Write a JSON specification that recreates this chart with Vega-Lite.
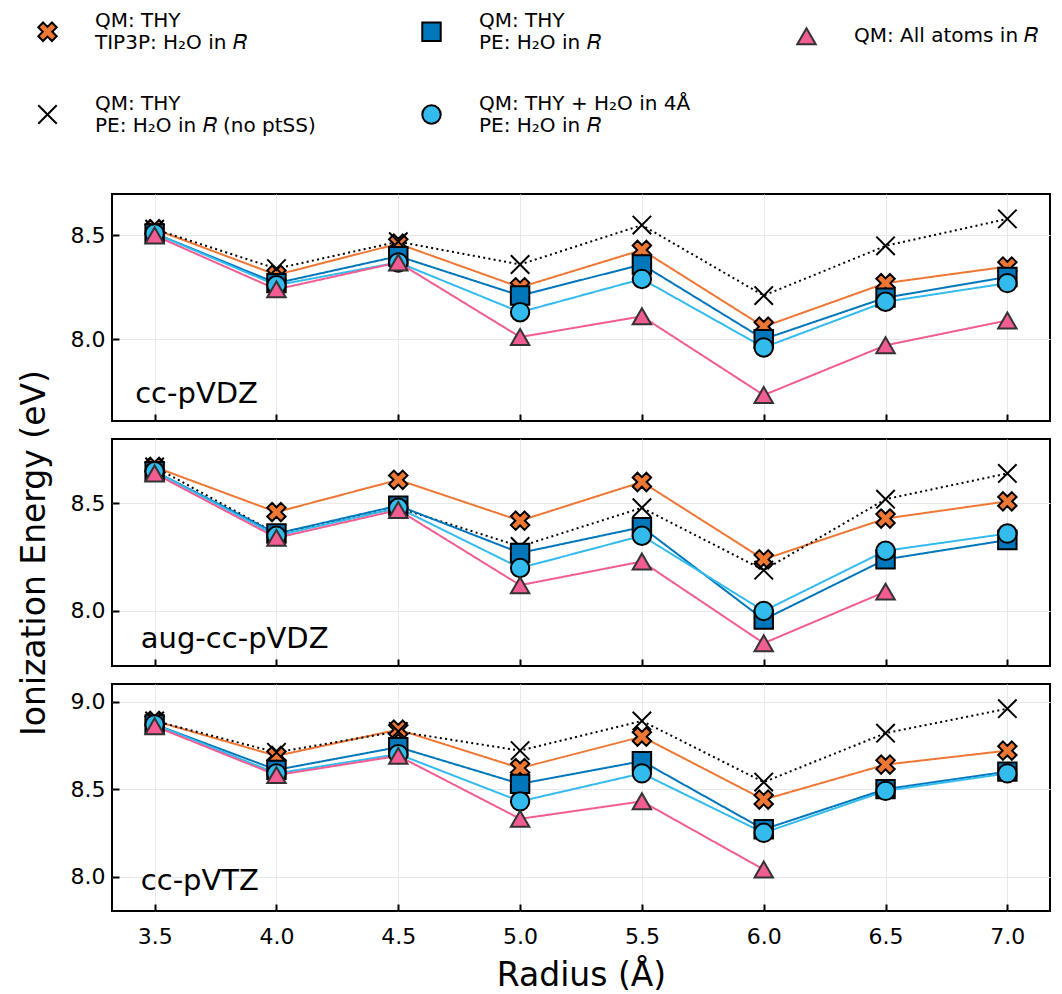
{
  "$schema": "https://vega.github.io/schema/vega-lite/v6.json",
  "background": "white",
  "padding": {"left": 17, "top": 20, "right": 5, "bottom": 3},
  "config": {
    "font": "DejaVu Sans",
    "view": {"stroke": "black", "strokeWidth": 2},
    "axis": {
      "labelFont": "DejaVu Sans", "labelFontSize": 22, "labelColor": "black",
      "tickColor": "black", "tickWidth": 2, "tickSize": -7,
      "domain": false, "gridColor": "#e8e8e8", "gridWidth": 1,
      "titleFont": "DejaVu Sans", "titleFontWeight": "normal", "titleFontSize": 33, "titleColor": "black"
    },
    "legend": {
      "labelFont": "DejaVu Sans", "labelFontSize": 20, "labelColor": "black", "labelLimit": 600,
      "symbolStrokeWidth": 2, "symbolSize": 340
    }
  },
  "data": {
    "values": [
      {"basis": "cc-pVDZ", "s": "a", "r": 3.5, "ie": 8.53}, {"basis": "cc-pVDZ", "s": "a", "r": 4.0, "ie": 8.31}, {"basis": "cc-pVDZ", "s": "a", "r": 4.5, "ie": 8.46}, {"basis": "cc-pVDZ", "s": "a", "r": 5.0, "ie": 8.25}, {"basis": "cc-pVDZ", "s": "a", "r": 5.5, "ie": 8.43}, {"basis": "cc-pVDZ", "s": "a", "r": 6.0, "ie": 8.06}, {"basis": "cc-pVDZ", "s": "a", "r": 6.5, "ie": 8.27}, {"basis": "cc-pVDZ", "s": "a", "r": 7.0, "ie": 8.35},
      {"basis": "cc-pVDZ", "s": "b", "r": 3.5, "ie": 8.53}, {"basis": "cc-pVDZ", "s": "b", "r": 4.0, "ie": 8.34}, {"basis": "cc-pVDZ", "s": "b", "r": 4.5, "ie": 8.47}, {"basis": "cc-pVDZ", "s": "b", "r": 5.0, "ie": 8.36}, {"basis": "cc-pVDZ", "s": "b", "r": 5.5, "ie": 8.55}, {"basis": "cc-pVDZ", "s": "b", "r": 6.0, "ie": 8.21}, {"basis": "cc-pVDZ", "s": "b", "r": 6.5, "ie": 8.45}, {"basis": "cc-pVDZ", "s": "b", "r": 7.0, "ie": 8.58},
      {"basis": "cc-pVDZ", "s": "c", "r": 3.5, "ie": 8.51}, {"basis": "cc-pVDZ", "s": "c", "r": 4.0, "ie": 8.27}, {"basis": "cc-pVDZ", "s": "c", "r": 4.5, "ie": 8.40}, {"basis": "cc-pVDZ", "s": "c", "r": 5.0, "ie": 8.21}, {"basis": "cc-pVDZ", "s": "c", "r": 5.5, "ie": 8.36}, {"basis": "cc-pVDZ", "s": "c", "r": 6.0, "ie": 8.00}, {"basis": "cc-pVDZ", "s": "c", "r": 6.5, "ie": 8.20}, {"basis": "cc-pVDZ", "s": "c", "r": 7.0, "ie": 8.30},
      {"basis": "cc-pVDZ", "s": "d", "r": 3.5, "ie": 8.51}, {"basis": "cc-pVDZ", "s": "d", "r": 4.0, "ie": 8.26}, {"basis": "cc-pVDZ", "s": "d", "r": 4.5, "ie": 8.37}, {"basis": "cc-pVDZ", "s": "d", "r": 5.0, "ie": 8.13}, {"basis": "cc-pVDZ", "s": "d", "r": 5.5, "ie": 8.29}, {"basis": "cc-pVDZ", "s": "d", "r": 6.0, "ie": 7.96}, {"basis": "cc-pVDZ", "s": "d", "r": 6.5, "ie": 8.18}, {"basis": "cc-pVDZ", "s": "d", "r": 7.0, "ie": 8.27},
      {"basis": "cc-pVDZ", "s": "e", "r": 3.5, "ie": 8.50}, {"basis": "cc-pVDZ", "s": "e", "r": 4.0, "ie": 8.24}, {"basis": "cc-pVDZ", "s": "e", "r": 4.5, "ie": 8.37}, {"basis": "cc-pVDZ", "s": "e", "r": 5.0, "ie": 8.01}, {"basis": "cc-pVDZ", "s": "e", "r": 5.5, "ie": 8.11}, {"basis": "cc-pVDZ", "s": "e", "r": 6.0, "ie": 7.73}, {"basis": "cc-pVDZ", "s": "e", "r": 6.5, "ie": 7.97}, {"basis": "cc-pVDZ", "s": "e", "r": 7.0, "ie": 8.09},
      {"basis": "aug-cc-pVDZ", "s": "a", "r": 3.5, "ie": 8.67}, {"basis": "aug-cc-pVDZ", "s": "a", "r": 4.0, "ie": 8.46}, {"basis": "aug-cc-pVDZ", "s": "a", "r": 4.5, "ie": 8.61}, {"basis": "aug-cc-pVDZ", "s": "a", "r": 5.0, "ie": 8.42}, {"basis": "aug-cc-pVDZ", "s": "a", "r": 5.5, "ie": 8.60}, {"basis": "aug-cc-pVDZ", "s": "a", "r": 6.0, "ie": 8.24}, {"basis": "aug-cc-pVDZ", "s": "a", "r": 6.5, "ie": 8.43}, {"basis": "aug-cc-pVDZ", "s": "a", "r": 7.0, "ie": 8.51},
      {"basis": "aug-cc-pVDZ", "s": "b", "r": 3.5, "ie": 8.67}, {"basis": "aug-cc-pVDZ", "s": "b", "r": 4.0, "ie": 8.36}, {"basis": "aug-cc-pVDZ", "s": "b", "r": 4.5, "ie": 8.48}, {"basis": "aug-cc-pVDZ", "s": "b", "r": 5.0, "ie": 8.30}, {"basis": "aug-cc-pVDZ", "s": "b", "r": 5.5, "ie": 8.48}, {"basis": "aug-cc-pVDZ", "s": "b", "r": 6.0, "ie": 8.19}, {"basis": "aug-cc-pVDZ", "s": "b", "r": 6.5, "ie": 8.52}, {"basis": "aug-cc-pVDZ", "s": "b", "r": 7.0, "ie": 8.64},
      {"basis": "aug-cc-pVDZ", "s": "c", "r": 3.5, "ie": 8.65}, {"basis": "aug-cc-pVDZ", "s": "c", "r": 4.0, "ie": 8.36}, {"basis": "aug-cc-pVDZ", "s": "c", "r": 4.5, "ie": 8.49}, {"basis": "aug-cc-pVDZ", "s": "c", "r": 5.0, "ie": 8.27}, {"basis": "aug-cc-pVDZ", "s": "c", "r": 5.5, "ie": 8.39}, {"basis": "aug-cc-pVDZ", "s": "c", "r": 6.0, "ie": 7.96}, {"basis": "aug-cc-pVDZ", "s": "c", "r": 6.5, "ie": 8.24}, {"basis": "aug-cc-pVDZ", "s": "c", "r": 7.0, "ie": 8.33},
      {"basis": "aug-cc-pVDZ", "s": "d", "r": 3.5, "ie": 8.65}, {"basis": "aug-cc-pVDZ", "s": "d", "r": 4.0, "ie": 8.35}, {"basis": "aug-cc-pVDZ", "s": "d", "r": 4.5, "ie": 8.48}, {"basis": "aug-cc-pVDZ", "s": "d", "r": 5.0, "ie": 8.20}, {"basis": "aug-cc-pVDZ", "s": "d", "r": 5.5, "ie": 8.35}, {"basis": "aug-cc-pVDZ", "s": "d", "r": 6.0, "ie": 8.00}, {"basis": "aug-cc-pVDZ", "s": "d", "r": 6.5, "ie": 8.28}, {"basis": "aug-cc-pVDZ", "s": "d", "r": 7.0, "ie": 8.36},
      {"basis": "aug-cc-pVDZ", "s": "e", "r": 3.5, "ie": 8.64}, {"basis": "aug-cc-pVDZ", "s": "e", "r": 4.0, "ie": 8.34}, {"basis": "aug-cc-pVDZ", "s": "e", "r": 4.5, "ie": 8.47}, {"basis": "aug-cc-pVDZ", "s": "e", "r": 5.0, "ie": 8.12}, {"basis": "aug-cc-pVDZ", "s": "e", "r": 5.5, "ie": 8.23}, {"basis": "aug-cc-pVDZ", "s": "e", "r": 6.0, "ie": 7.85}, {"basis": "aug-cc-pVDZ", "s": "e", "r": 6.5, "ie": 8.09},
      {"basis": "cc-pVTZ", "s": "a", "r": 3.5, "ie": 8.89}, {"basis": "cc-pVTZ", "s": "a", "r": 4.0, "ie": 8.69}, {"basis": "cc-pVTZ", "s": "a", "r": 4.5, "ie": 8.84}, {"basis": "cc-pVTZ", "s": "a", "r": 5.0, "ie": 8.62}, {"basis": "cc-pVTZ", "s": "a", "r": 5.5, "ie": 8.80}, {"basis": "cc-pVTZ", "s": "a", "r": 6.0, "ie": 8.44}, {"basis": "cc-pVTZ", "s": "a", "r": 6.5, "ie": 8.64}, {"basis": "cc-pVTZ", "s": "a", "r": 7.0, "ie": 8.72},
      {"basis": "cc-pVTZ", "s": "b", "r": 3.5, "ie": 8.89}, {"basis": "cc-pVTZ", "s": "b", "r": 4.0, "ie": 8.71}, {"basis": "cc-pVTZ", "s": "b", "r": 4.5, "ie": 8.83}, {"basis": "cc-pVTZ", "s": "b", "r": 5.0, "ie": 8.72}, {"basis": "cc-pVTZ", "s": "b", "r": 5.5, "ie": 8.89}, {"basis": "cc-pVTZ", "s": "b", "r": 6.0, "ie": 8.54}, {"basis": "cc-pVTZ", "s": "b", "r": 6.5, "ie": 8.82}, {"basis": "cc-pVTZ", "s": "b", "r": 7.0, "ie": 8.96},
      {"basis": "cc-pVTZ", "s": "c", "r": 3.5, "ie": 8.87}, {"basis": "cc-pVTZ", "s": "c", "r": 4.0, "ie": 8.61}, {"basis": "cc-pVTZ", "s": "c", "r": 4.5, "ie": 8.74}, {"basis": "cc-pVTZ", "s": "c", "r": 5.0, "ie": 8.53}, {"basis": "cc-pVTZ", "s": "c", "r": 5.5, "ie": 8.66}, {"basis": "cc-pVTZ", "s": "c", "r": 6.0, "ie": 8.27}, {"basis": "cc-pVTZ", "s": "c", "r": 6.5, "ie": 8.50}, {"basis": "cc-pVTZ", "s": "c", "r": 7.0, "ie": 8.60},
      {"basis": "cc-pVTZ", "s": "d", "r": 3.5, "ie": 8.87}, {"basis": "cc-pVTZ", "s": "d", "r": 4.0, "ie": 8.59}, {"basis": "cc-pVTZ", "s": "d", "r": 4.5, "ie": 8.70}, {"basis": "cc-pVTZ", "s": "d", "r": 5.0, "ie": 8.43}, {"basis": "cc-pVTZ", "s": "d", "r": 5.5, "ie": 8.59}, {"basis": "cc-pVTZ", "s": "d", "r": 6.0, "ie": 8.25}, {"basis": "cc-pVTZ", "s": "d", "r": 6.5, "ie": 8.49}, {"basis": "cc-pVTZ", "s": "d", "r": 7.0, "ie": 8.59},
      {"basis": "cc-pVTZ", "s": "e", "r": 3.5, "ie": 8.86}, {"basis": "cc-pVTZ", "s": "e", "r": 4.0, "ie": 8.58}, {"basis": "cc-pVTZ", "s": "e", "r": 4.5, "ie": 8.69}, {"basis": "cc-pVTZ", "s": "e", "r": 5.0, "ie": 8.33}, {"basis": "cc-pVTZ", "s": "e", "r": 5.5, "ie": 8.43}, {"basis": "cc-pVTZ", "s": "e", "r": 6.0, "ie": 8.04}
    ]
  },
  "spacing": 18,
  "bounds": "flush",
  "vconcat": [
    {
      "width": 938, "height": 227,
      "transform": [{"filter": "datum.basis === 'cc-pVDZ'"}],
      "encoding": {
        "x": {"field": "r", "type": "quantitative", "scale": {"domain": [3.325, 7.175], "nice": false, "zero": false}, "axis": {"values": [3.5, 4.0, 4.5, 5.0, 5.5, 6.0, 6.5, 7.0], "labels": false, "title": null}},
        "y": {"field": "ie", "type": "quantitative", "scale": {"domain": [7.605, 8.70], "nice": false, "zero": false}, "axis": {"values": [8.0, 8.5], "format": ".1f", "title": null, "labelPadding": 14}}
      },
      "layer": [
        {"mark": {"type": "line", "strokeWidth": 2},
         "encoding": {
           "color": {"field": "s", "type": "nominal", "scale": {"domain": ["a", "b", "c", "d", "e"], "range": ["#EE7733", "black", "#0077BB", "#33BBEE", "#F15C92"]}, "legend": null},
           "strokeDash": {"field": "s", "type": "nominal", "scale": {"domain": ["a", "b", "c", "d", "e"], "range": [[1, 0], [2, 3.3], [1, 0], [1, 0], [1, 0]]}, "legend": null}
         }},
        {"mark": {"type": "point", "filled": true, "size": 340, "strokeWidth": 2, "opacity": 1},
         "encoding": {
           "shape": {"field": "s", "type": "nominal", "scale": {"domain": ["a", "b", "c", "d", "e"], "range": ["M0.48,-1L1,-0.48L0.52,0L1,0.48L0.48,1L0,0.52L-0.48,1L-1,0.48L-0.52,0L-1,-0.48L-0.48,-1L0,-0.52Z", "M-1,-1L1,1M-1,1L1,-1", "square", "circle", "triangle-up"]},
             "legend": {"title": null, "orient": "none", "legendX": -75, "legendY": -173, "columns": 3, "columnPadding": 102, "rowPadding": 40, "labelOffset": 37, "labelLineHeight": 26, "labelBaseline": {"expr": "datum.value === 'e' ? 'middle' : 'line-bottom'"},
               "labelExpr": "datum.label == 'a' ? ['QM: THY', '\u00a0TIP3P: H₂O in 𝑅'] : datum.label == 'b' ? ['QM: THY', '\u00a0PE: H₂O in 𝑅 (no ptSS)'] : datum.label == 'c' ? ['QM: THY', '\u00a0PE: H₂O in 𝑅'] : datum.label == 'd' ? ['QM: THY + H₂O in 4Å', '\u00a0PE: H₂O in 𝑅'] : 'QM: All atoms in 𝑅'"}},
           "fill": {"field": "s", "type": "nominal", "scale": {"domain": ["a", "b", "c", "d", "e"], "range": ["#EE7733", "transparent", "#0077BB", "#33BBEE", "#F15C92"]},
             "legend": {"title": null, "orient": "none", "legendX": -75, "legendY": -173, "columns": 3, "columnPadding": 102, "rowPadding": 40, "labelOffset": 37, "labelLineHeight": 26, "labelBaseline": {"expr": "datum.value === 'e' ? 'middle' : 'line-bottom'"},
               "labelExpr": "datum.label == 'a' ? ['QM: THY', '\u00a0TIP3P: H₂O in 𝑅'] : datum.label == 'b' ? ['QM: THY', '\u00a0PE: H₂O in 𝑅 (no ptSS)'] : datum.label == 'c' ? ['QM: THY', '\u00a0PE: H₂O in 𝑅'] : datum.label == 'd' ? ['QM: THY + H₂O in 4Å', '\u00a0PE: H₂O in 𝑅'] : 'QM: All atoms in 𝑅'"}},
           "stroke": {"field": "s", "type": "nominal", "scale": {"domain": ["a", "b", "c", "d", "e"], "range": ["black", "black", "black", "black", "#333333"]},
             "legend": {"title": null, "orient": "none", "legendX": -75, "legendY": -173, "columns": 3, "columnPadding": 102, "rowPadding": 40, "labelOffset": 37, "labelLineHeight": 26, "labelBaseline": {"expr": "datum.value === 'e' ? 'middle' : 'line-bottom'"},
               "labelExpr": "datum.label == 'a' ? ['QM: THY', '\u00a0TIP3P: H₂O in 𝑅'] : datum.label == 'b' ? ['QM: THY', '\u00a0PE: H₂O in 𝑅 (no ptSS)'] : datum.label == 'c' ? ['QM: THY', '\u00a0PE: H₂O in 𝑅'] : datum.label == 'd' ? ['QM: THY + H₂O in 4Å', '\u00a0PE: H₂O in 𝑅'] : 'QM: All atoms in 𝑅'"}}
         }},
        {"transform": [{"filter": "datum.r === 3.5 && datum.s === 'a'"}],
         "mark": {"type": "text", "text": "cc-pVDZ", "align": "left", "baseline": "middle", "fontSize": 29, "font": "DejaVu Sans"},
         "encoding": {"x": {"datum": 3.42}, "y": {"datum": 7.735}}}
      ]
    },
    {
      "width": 938, "height": 227,
      "transform": [{"filter": "datum.basis === 'aug-cc-pVDZ'"}],
      "encoding": {
        "x": {"field": "r", "type": "quantitative", "scale": {"domain": [3.325, 7.175], "nice": false, "zero": false}, "axis": {"values": [3.5, 4.0, 4.5, 5.0, 5.5, 6.0, 6.5, 7.0], "labels": false, "title": null}},
        "y": {"field": "ie", "type": "quantitative", "scale": {"domain": [7.744, 8.80], "nice": false, "zero": false}, "axis": {"values": [8.0, 8.5], "format": ".1f", "title": "Ionization Energy (eV)", "labelPadding": 14, "titlePadding": 19}}
      },
      "layer": [
        {"mark": {"type": "line", "strokeWidth": 2},
         "encoding": {
           "color": {"field": "s", "type": "nominal", "scale": {"domain": ["a", "b", "c", "d", "e"], "range": ["#EE7733", "black", "#0077BB", "#33BBEE", "#F15C92"]}, "legend": null},
           "strokeDash": {"field": "s", "type": "nominal", "scale": {"domain": ["a", "b", "c", "d", "e"], "range": [[1, 0], [2, 3.3], [1, 0], [1, 0], [1, 0]]}, "legend": null}
         }},
        {"mark": {"type": "point", "filled": true, "size": 340, "strokeWidth": 2, "opacity": 1},
         "encoding": {
           "shape": {"field": "s", "type": "nominal", "scale": {"domain": ["a", "b", "c", "d", "e"], "range": ["M0.48,-1L1,-0.48L0.52,0L1,0.48L0.48,1L0,0.52L-0.48,1L-1,0.48L-0.52,0L-1,-0.48L-0.48,-1L0,-0.52Z", "M-1,-1L1,1M-1,1L1,-1", "square", "circle", "triangle-up"]}, "legend": null},
           "fill": {"field": "s", "type": "nominal", "scale": {"domain": ["a", "b", "c", "d", "e"], "range": ["#EE7733", "transparent", "#0077BB", "#33BBEE", "#F15C92"]}, "legend": null},
           "stroke": {"field": "s", "type": "nominal", "scale": {"domain": ["a", "b", "c", "d", "e"], "range": ["black", "black", "black", "black", "#333333"]}, "legend": null}
         }},
        {"transform": [{"filter": "datum.r === 3.5 && datum.s === 'a'"}],
         "mark": {"type": "text", "text": "aug-cc-pVDZ", "align": "left", "baseline": "middle", "fontSize": 29, "font": "DejaVu Sans"},
         "encoding": {"x": {"datum": 3.443}, "y": {"datum": 7.87}}}
      ]
    },
    {
      "width": 938, "height": 227,
      "transform": [{"filter": "datum.basis === 'cc-pVTZ'"}],
      "encoding": {
        "x": {"field": "r", "type": "quantitative", "scale": {"domain": [3.325, 7.175], "nice": false, "zero": false}, "axis": {"values": [3.5, 4.0, 4.5, 5.0, 5.5, 6.0, 6.5, 7.0], "format": ".1f", "title": "Radius (Å)", "labelPadding": 22, "titlePadding": 12}},
        "y": {"field": "ie", "type": "quantitative", "scale": {"domain": [7.803, 9.101], "nice": false, "zero": false}, "axis": {"values": [8.0, 8.5, 9.0], "format": ".1f", "title": null, "labelPadding": 14}}
      },
      "layer": [
        {"mark": {"type": "line", "strokeWidth": 2},
         "encoding": {
           "color": {"field": "s", "type": "nominal", "scale": {"domain": ["a", "b", "c", "d", "e"], "range": ["#EE7733", "black", "#0077BB", "#33BBEE", "#F15C92"]}, "legend": null},
           "strokeDash": {"field": "s", "type": "nominal", "scale": {"domain": ["a", "b", "c", "d", "e"], "range": [[1, 0], [2, 3.3], [1, 0], [1, 0], [1, 0]]}, "legend": null}
         }},
        {"mark": {"type": "point", "filled": true, "size": 340, "strokeWidth": 2, "opacity": 1},
         "encoding": {
           "shape": {"field": "s", "type": "nominal", "scale": {"domain": ["a", "b", "c", "d", "e"], "range": ["M0.48,-1L1,-0.48L0.52,0L1,0.48L0.48,1L0,0.52L-0.48,1L-1,0.48L-0.52,0L-1,-0.48L-0.48,-1L0,-0.52Z", "M-1,-1L1,1M-1,1L1,-1", "square", "circle", "triangle-up"]}, "legend": null},
           "fill": {"field": "s", "type": "nominal", "scale": {"domain": ["a", "b", "c", "d", "e"], "range": ["#EE7733", "transparent", "#0077BB", "#33BBEE", "#F15C92"]}, "legend": null},
           "stroke": {"field": "s", "type": "nominal", "scale": {"domain": ["a", "b", "c", "d", "e"], "range": ["black", "black", "black", "black", "#333333"]}, "legend": null}
         }},
        {"transform": [{"filter": "datum.r === 3.5 && datum.s === 'a'"}],
         "mark": {"type": "text", "text": "cc-pVTZ", "align": "left", "baseline": "middle", "fontSize": 29, "font": "DejaVu Sans"},
         "encoding": {"x": {"datum": 3.443}, "y": {"datum": 7.973}}}
      ]
    }
  ],
  "resolve": {"scale": {"shape": "shared", "fill": "shared", "stroke": "shared", "strokeDash": "shared", "color": "shared"}, "legend": {"shape": "independent", "fill": "independent", "stroke": "independent"}}
}
